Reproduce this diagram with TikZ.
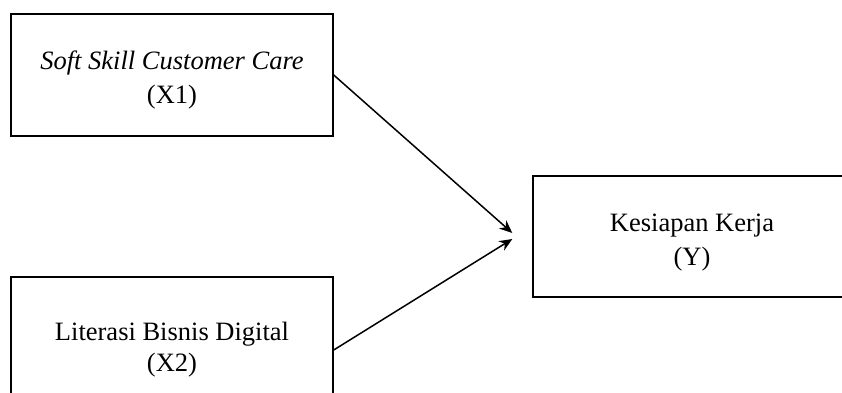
\documentclass[tikz,border=0pt]{standalone}
\usepackage{fontspec}
\setmainfont{Liberation Serif}
\usetikzlibrary{calc}
\usetikzlibrary{positioning}
\usetikzlibrary{arrows.meta}
\tikzstyle{varbox} = [draw, rectangle, line width=1.4pt, minimum width=322pt, align=center, font=\fontsize{26.5}{34}\selectfont]
\tikzstyle{effect} = [line width=1.5pt, -{Stealth[length=13pt,width=11pt]}]
\newcommand{\boxgap}{\rule{0pt}{29pt}}

\begin{document}
\begin{tikzpicture}[x=1pt, y=-1pt]
\path[use as bounding box] (0,0) rectangle (842,392);
\clip (0,0) rectangle (842,392);
\node[varbox, minimum height=122pt] (x1) at (172,75) {\boxgap\textit{Soft Skill Customer Care}\\(X1)};
\node[varbox, minimum height=146pt] (x2) at (172,350) {Literasi Bisnis Digital\\[-3pt](X2)};
\node[varbox, minimum width=318pt, minimum height=121pt] (y) at (692,236.5) {\boxgap Kesiapan Kerja\\(Y)};
\coordinate (tipa) at ($(y.west)+(-20,-3.5)$);
\coordinate (tipb) at ($(y.west)+(-20,2.5)$);
\draw[effect] (x1.east) -- (tipa);
\draw[effect] (x2.east) -- (tipb);
\end{tikzpicture}
\end{document}
